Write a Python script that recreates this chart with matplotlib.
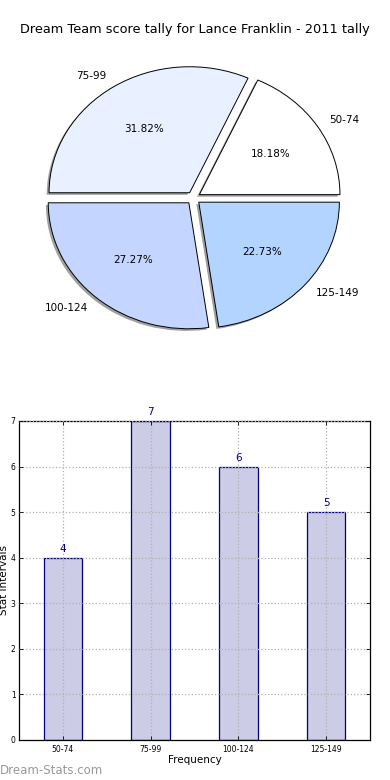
import numpy as np
import matplotlib
matplotlib.use('Agg')
import matplotlib.pyplot as plt

# Datos
categorias = ['50-74', '75-99', '100-124', '125-149']
frecuencias = [4, 7, 6, 5]
colores_pie = ['#ffffff', '#e9f0ff', '#c4d6ff', '#b3d4ff']
titulo = 'Dream Team score tally for Lance Franklin - 2011 tally'

fig = plt.figure(figsize=(3.9, 7.8), dpi=100)

# Pie chart
ax1 = fig.add_axes([0.0, 0.5513, 1.0, 0.3846])
ax1.pie(frecuencias, labels=categorias, colors=colores_pie,
        explode=[0.05] * 4, autopct='%1.2f%%',
        shadow={'ox': -0.012, 'oy': -0.012, 'facecolor': '#888888',
                'edgecolor': 'none', 'alpha': 0.8},
        wedgeprops={'edgecolor': 'black', 'linewidth': 0.7},
        textprops={'fontsize': 7.5})
ax1.set_aspect('auto')
ax1.set_xlim(-1.376, 1.398)
ax1.set_ylim(-1.206, 1.175)
fig.text(0.5, 0.962, titulo, ha='center', va='center', fontsize=9.3)

# Bar chart
ax2 = fig.add_axes([0.0487, 0.0513, 0.9, 0.409])
x = np.arange(len(categorias))
barras = ax2.bar(x, frecuencias, width=0.44, color='#ccccE6',
                 edgecolor='#000080', linewidth=0.9, zorder=2)
for b, v in zip(barras, frecuencias):
    ax2.text(b.get_x() + b.get_width() / 2, v + 0.08, str(v),
             ha='center', va='bottom', color='#000080', fontsize=7.5)
ax2.set_xlim(-0.5, 3.5)
ax2.set_ylim(0, 7)
ax2.set_xticks(x)
ax2.set_xticklabels(categorias)
ax2.set_yticks(range(8))
ax2.tick_params(labelsize=5.5, direction='in', top=True, right=True,
                length=3, width=0.6)
ax2.tick_params(axis='y', pad=2.5)
ax2.grid(True, linestyle=':', color='#b0b0b0', linewidth=0.9, zorder=3)
ax2.set_axisbelow(False)
ax2.set_xlabel('Frequency', fontsize=7.5, labelpad=1)
ax2.set_ylabel('Stat Intervals', fontsize=7.5)
ax2.yaxis.set_label_coords(-0.028, 0.5)
for s in ax2.spines.values():
    s.set_linewidth(0.9)

fig.text(0.0, 0.004, 'Dream-Stats.com', color='#999999', fontsize=8.5,
         ha='left', va='bottom')

fig.savefig('out.png', dpi=100)
